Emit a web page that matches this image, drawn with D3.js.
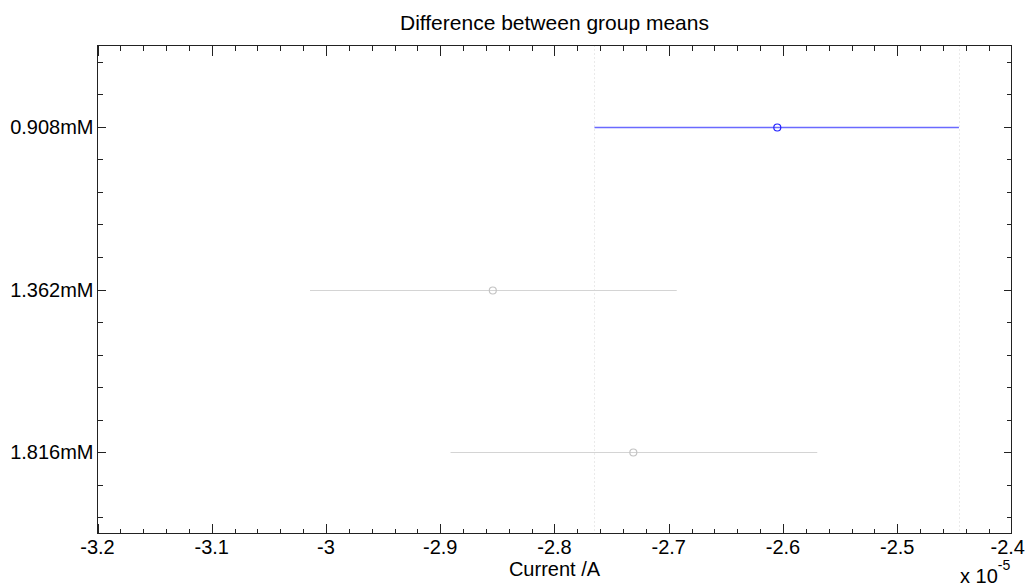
<!DOCTYPE html>
<html>
<head>
<meta charset="utf-8">
<script src="https://cdnjs.cloudflare.com/ajax/libs/d3/7.8.5/d3.min.js"></script>
<style>
    body { margin: 0; background: #fff; }
    text { font-family: "Liberation Sans", Arial, Helvetica, sans-serif; fill: #000; }
</style>
</head>
<body>
<svg class="chart" width="1027" height="588"></svg>
<script>
// Data (current in units of 1e-5 A) -------------------------------------------------------

var groups = ["0.908mM", "1.362mM", "1.816mM"];
var means = [-2.605, -2.854, -2.731];
var lowerCI = [-2.765, -3.014, -2.891];
var upperCI = [-2.446, -2.693, -2.570];
var xTicks = [-3.2, -3.1, -3, -2.9, -2.8, -2.7, -2.6, -2.5, -2.4];
var selected = 0; // group that is highlighted in blue

// Main ------------------------------------------------------------------------------------

function main() {
    var svg = d3.select(".chart");
    var left = 97.5, right = 1011.5, top = 45.5, bottom = 533.5;

    var x = d3.scaleLinear().domain([-3.2, -2.4]).range([left, right]);
    var y = d3.scaleLinear().domain([0.5, groups.length + 0.5]).range([top, bottom]);

    // dotted lines at the selected group's interval ends
    var g = svg.append("g");
    [lowerCI[selected], upperCI[selected]].forEach(function (v) {
        g.append("line")
            .attr("x1", Math.round(x(v)) + 0.5).attr("x2", Math.round(x(v)) + 0.5)
            .attr("y1", top).attr("y2", bottom)
            .style("stroke", "#d4d4d4")
            .style("stroke-dasharray", "1,3");
    });

    // intervals
    groups.forEach(function (name, i) {
        var isSel = i === selected;
        var cy = Math.round(y(i + 1)) + 0.5;
        g.append("line")
            .attr("x1", x(lowerCI[i])).attr("x2", x(upperCI[i]))
            .attr("y1", cy).attr("y2", cy)
            .style("stroke", isSel ? "#6a6aff" : "#d4d4d4")
            .style("stroke-width", isSel ? 1.5 : 1);
        g.append("circle")
            .attr("cx", x(means[i])).attr("cy", cy)
            .attr("r", 3.5)
            .style("fill", "none")
            .style("stroke", isSel ? "#2020ff" : "#c4c4c4")
            .style("stroke-width", 1.2);
    });

    drawAxes(svg, x, y, left, right, top, bottom);
}

// Axes ------------------------------------------------------------------------------------

function drawAxes(svg, x, y, left, right, top, bottom) {
    var ax = svg.append("g").style("stroke", "#222").style("shape-rendering", "crispEdges");

    ax.append("rect")
        .attr("x", left).attr("y", top)
        .attr("width", right - left).attr("height", bottom - top)
        .style("fill", "none");

    // x ticks, majors every 0.1 and minors every 0.02
    var minorX = d3.range(0, 41).map(function (k) { return -3.2 + k * 0.02; });
    minorX.forEach(function (v, k) {
        var len = (k % 5 === 0) ? 10 : 5;
        var px = Math.round(x(v)) + 0.5;
        ax.append("line").attr("x1", px).attr("x2", px).attr("y1", bottom).attr("y2", bottom - len);
        ax.append("line").attr("x1", px).attr("x2", px).attr("y1", top).attr("y2", top + len);
    });

    // y ticks, majors on groups and minors every 0.2
    var minorY = d3.range(0, 15).map(function (k) { return 0.6 + k * 0.2; });
    minorY.forEach(function (v) {
        var isMajor = Math.abs(v - Math.round(v)) < 1e-6;
        var len = isMajor ? 8 : 5;
        var py = Math.round(y(v)) + 0.5;
        ax.append("line").attr("x1", left).attr("x2", left + len).attr("y1", py).attr("y2", py);
        ax.append("line").attr("x1", right).attr("x2", right - len).attr("y1", py).attr("y2", py);
    });

    // labels
    svg.append("g").selectAll("text")
        .data(xTicks)
        .enter()
        .append("text")
        .attr("x", function (d) { return x(d); })
        .attr("y", 554)
        .attr("text-anchor", "middle")
        .style("font-size", "20px")
        .text(function (d) { return String(d); })
        .each(function () {
            // keep the last label inside the window
            var w = this.getComputedTextLength();
            var cx = +d3.select(this).attr("x");
            if (cx + w / 2 > 1025) d3.select(this).attr("x", 1025 - w / 2);
        });

    svg.append("g").selectAll("text")
        .data(groups)
        .enter()
        .append("text")
        .attr("x", left - 4)
        .attr("y", function (d, i) { return y(i + 1) + 7; })
        .attr("text-anchor", "end")
        .style("font-size", "20px")
        .text(function (d) { return d; });

    svg.append("text")
        .attr("x", (left + right) / 2).attr("y", 30)
        .attr("text-anchor", "middle")
        .style("font-size", "21px")
        .text("Difference between group means");

    svg.append("text")
        .attr("x", (left + right) / 2).attr("y", 576)
        .attr("text-anchor", "middle")
        .style("font-size", "20px")
        .text("Current /A");

    var exp = svg.append("text")
        .attr("x", 960).attr("y", 583)
        .style("font-size", "20px");
    exp.append("tspan").text("x 10");
    exp.append("tspan").attr("dy", -13).style("font-size", "14px").text("-5");
}

main();
</script>
</body>
</html>
